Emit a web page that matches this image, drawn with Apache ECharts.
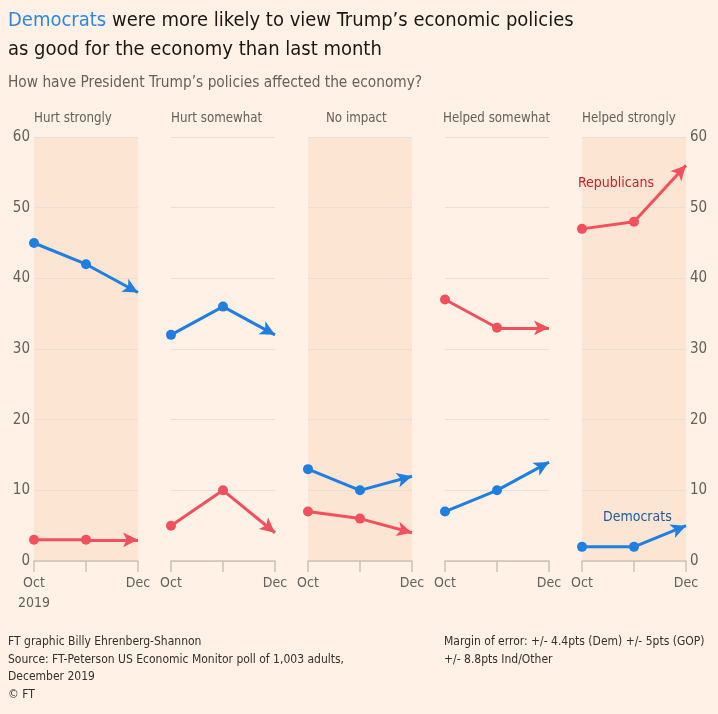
<!DOCTYPE html>
<html><head><meta charset="utf-8">
<script src="https://cdn.jsdelivr.net/npm/echarts@6/dist/echarts.min.js"></script>
<style>html,body{margin:0;padding:0;background:#fff1e5;}#c{width:718px;height:714px;}</style>
</head><body><div id="c"></div>
<script>
const months = ['Oct', 'Nov', 'Dec'];
const panels = ['Hurt strongly', 'Hurt somewhat', 'No impact', 'Helped somewhat', 'Helped strongly'];
const demValues = [
  [45, 42, 38],
  [32, 36, 32],
  [13, 10, 12],
  [7, 10, 14],
  [2, 2, 5]
];
const repValues = [
  [3, 3, 3],
  [5, 10, 4],
  [7, 6, 4],
  [37, 33, 33],
  [47, 48, 56]
];
const yTicks = [0, 10, 20, 30, 40, 50, 60];

const FONT = '"Liberation Sans Narrow", "DejaVu Sans Condensed", sans-serif';
const BLUE = '#1f7fe0';
const RED = '#f2505c';
const GREY = '#66605c';
const SHADE = '#fde5d3';

const chart = echarts.init(document.getElementById('c'));
const grids = [], xAxes = [], yAxes = [], series = [];
const titleLeft = [34, 171, 326, 443, 582];
panels.forEach((p, i) => {
  grids.push({
    left: 34 + i * 137, top: 137, width: 104, height: 424,
    show: i % 2 === 0, backgroundColor: SHADE, borderWidth: 0
  });
  xAxes.push({
    type: 'category', gridIndex: i, data: months, boundaryGap: false,
    axisLine: { lineStyle: { color: '#ccc1b7', width: 1.5 } },
    axisTick: { show: true, length: 11, lineStyle: { color: '#ccc1b7', width: 1.5 } },
    axisLabel: {
      color: GREY, fontFamily: FONT, fontSize: 14, margin: 12, lineHeight: 20,
      interval: 0, showMinLabel: true, showMaxLabel: true,
      formatter: (v) => v === 'Nov' ? '' : (i === 0 && v === 'Oct' ? 'Oct\n2019' : v),
      align: 'center', verticalAlign: 'top'
    }
  });
  yAxes.push({
    type: 'value', gridIndex: i, min: yTicks[0], max: yTicks[yTicks.length - 1], interval: 10,
    position: i === 4 ? 'right' : 'left',
    axisLine: { show: false }, axisTick: { show: false },
    axisLabel: { show: i === 0 || i === 4, color: GREY, fontFamily: FONT, fontSize: 15, margin: 4 },
    splitLine: { lineStyle: { color: '#ebdfd4', width: 1 } }
  });
  [[demValues[i], BLUE, 'Democrats'], [repValues[i], RED, 'Republicans']].forEach(([vals, col, name]) => {
    series.push({
      type: 'line', name: name, xAxisIndex: i, yAxisIndex: i,
      data: vals.slice(0, 2),
      symbol: 'circle', symbolSize: 10, color: col,
      lineStyle: { color: col, width: 3 }, itemStyle: { color: col },
      emphasis: { disabled: true }, silent: true, animation: false,
      markLine: {
        silent: true, animation: false,
        symbol: ['none', 'arrow'], symbolSize: [11, 15],
        lineStyle: { color: col, width: 3, type: 'solid' },
        label: { show: false },
        data: [[{ coord: [months[1], vals[1]] }, { coord: [months[2], vals[2]] }]]
      }
    });
  });
});

chart.setOption({
  backgroundColor: '#fff1e5',
  animation: false,
  title: [
    {
      left: 8, top: 6, padding: 0,
      text: '{b|Democrats} were more likely to view Trump’s economic policies\nas good for the economy than last month',
      textStyle: { color: '#1a1817', fontFamily: FONT, fontSize: 20, fontWeight: 'normal', lineHeight: 29,
        rich: { b: { color: '#2f87e0', fontFamily: FONT, fontSize: 20 } } }
    },
    {
      left: 8, top: 76, padding: 0, text: 'How have President Trump’s policies affected the economy?',
      textStyle: { color: GREY, fontFamily: FONT, fontSize: 15.3, fontWeight: 'normal' }
    },
    ...panels.map((p, i) => ({
      left: titleLeft[i], top: 112, padding: 0, text: p,
      textStyle: { color: GREY, fontFamily: FONT, fontSize: 13.2, fontWeight: 'normal' }
    })),
    {
      left: 8, top: 633, padding: 0,
      text: 'FT graphic Billy Ehrenberg-Shannon\nSource: FT-Peterson US Economic Monitor poll of 1,003 adults,\nDecember 2019\n© FT',
      textStyle: { color: '#33302e', fontFamily: FONT, fontSize: 12, fontWeight: 'normal', lineHeight: 17.7 }
    },
    {
      left: 444, top: 633, padding: 0,
      text: 'Margin of error: +/- 4.4pts (Dem) +/- 5pts (GOP)\n+/- 8.8pts Ind/Other',
      textStyle: { color: '#33302e', fontFamily: FONT, fontSize: 12, fontWeight: 'normal', lineHeight: 17.7 }
    }
  ],
  grid: grids, xAxis: xAxes, yAxis: yAxes, series: series,
  graphic: [
    { type: 'text', left: 578, top: 176, style: { text: 'Republicans', fill: '#d11b2a', font: '500 14px ' + FONT } },
    { type: 'text', left: 603, top: 510, style: { text: 'Democrats', fill: '#1d5a97', font: '500 14px ' + FONT } }
  ]
});
</script></body></html>
